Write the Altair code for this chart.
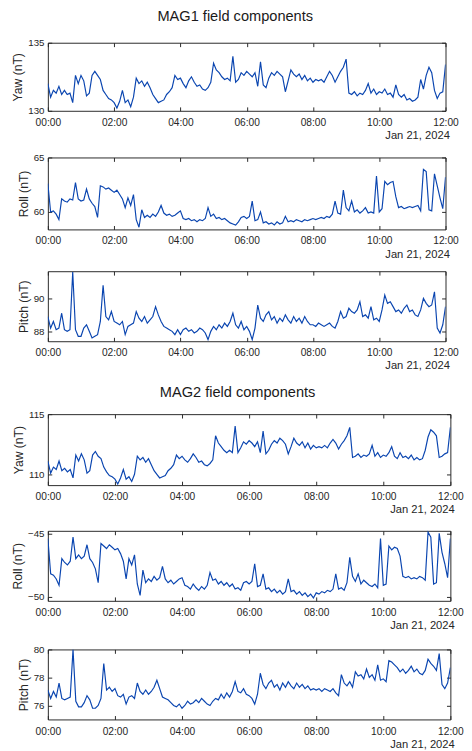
import altair as alt
import pandas as pd

# sample times: every 5 minutes, 00:00 .. 12:00 on Jan 21, 2024
minutes = list(range(0, 725, 5))
times = [(pd.Timestamp("2024-01-21") + pd.Timedelta(minutes=m)).strftime("%Y-%m-%dT%H:%M:%S") for m in minutes]

mag1_yaw = [
    132.0, 131.0, 131.5, 131.3, 131.8, 131.2, 131.5, 131.2, 131.3, 130.6, 132.6, 132.0,
    132.6, 132.2, 131.1, 131.3, 132.6, 132.9, 132.6, 132.3, 131.5, 131.2, 130.9, 130.8,
    130.6, 130.2, 130.7, 131.5, 130.6, 130.8, 130.3, 131.0, 132.4, 132.0, 132.2, 131.8,
    132.1, 131.7, 131.2, 130.9, 130.6, 130.7, 130.8, 131.2, 131.4, 131.7, 132.6, 132.3,
    132.4, 132.0, 131.7, 132.2, 132.5, 132.1, 131.8, 131.9, 131.6, 131.5, 131.7, 132.1,
    133.5, 133.0, 132.8, 132.5, 132.3, 132.4, 132.2, 134.0, 132.1, 132.3, 132.8, 132.6,
    132.9, 132.7, 132.5, 132.8, 131.8, 133.6, 131.9, 131.7, 132.4, 132.8, 132.6, 132.9,
    132.7, 132.5, 131.4, 132.2, 133.0, 132.7, 132.5, 132.7, 132.3, 132.6, 132.2, 132.4,
    132.1, 132.3, 132.2, 132.3, 132.1, 132.5, 132.9, 132.6, 132.1, 132.5, 132.9, 133.2,
    133.8, 131.3, 131.2, 131.4, 131.1, 131.3, 131.2, 131.5, 132.0, 131.3, 131.6, 131.2,
    131.4, 131.3, 131.6, 131.2, 131.3, 131.0, 131.9, 131.2, 131.0, 131.2, 130.8, 130.9,
    130.7, 130.8, 131.0, 132.3, 131.6, 132.6, 133.2, 132.8, 131.5, 130.9, 131.3, 131.4,
    133.4,
]
mag1_roll = [
    62.6, 60.0, 60.1, 59.8, 59.3, 61.2, 61.0, 60.9, 61.2, 61.1, 62.7, 61.2,
    61.0, 61.1, 62.1, 61.2, 60.8, 60.5, 59.5, 62.4, 62.3, 62.1, 62.2, 62.0,
    61.8, 62.0, 61.6, 61.2, 60.4, 61.3, 60.6, 61.6, 59.3, 58.6, 60.2, 59.5,
    59.7, 59.5, 59.8, 59.6, 60.0, 60.6, 59.9, 59.7, 59.8, 59.6, 59.7, 59.9,
    60.1, 59.4, 59.3, 59.4, 59.2, 59.3, 59.1, 59.3, 59.2, 59.4, 60.4, 59.6,
    59.8, 59.4, 59.5, 59.3, 59.4, 59.2, 59.0, 58.9, 58.8, 59.1, 59.5, 59.6,
    59.4, 59.6, 61.0, 59.2, 59.3, 60.0, 59.0, 59.1, 58.9, 59.0, 58.8, 59.1,
    58.9, 59.0, 59.6, 59.1, 59.2, 59.1, 59.3, 59.2, 59.1, 59.3, 59.2, 59.3,
    59.4, 59.3, 59.4, 59.5, 59.4, 59.6, 59.5, 59.8, 61.0, 59.9, 59.8, 62.0,
    60.4, 60.1, 61.0, 60.0, 60.2, 59.9, 60.1, 60.4, 59.9, 60.0, 59.9, 63.3,
    60.0, 60.3, 62.8, 62.5, 62.7, 62.8, 61.4, 60.4, 60.5, 60.3, 60.4, 60.5,
    60.4, 60.5, 60.6, 60.1, 63.9, 63.7, 60.2, 60.1, 63.5, 62.4, 61.3, 60.3,
    63.2,
]
mag1_pitch = [
    88.9, 88.2, 88.6, 88.1, 88.2, 89.1, 88.1, 88.0, 88.1, 91.6, 88.1, 87.7,
    87.7, 88.2, 88.4, 88.0, 87.6, 87.7, 87.8, 88.6, 90.8, 88.9, 88.7, 89.2,
    88.6, 88.5, 88.4, 88.6, 87.8, 88.3, 88.4, 88.5, 89.2, 88.8, 88.6, 88.9,
    88.5, 88.7, 88.9, 89.5, 89.0, 88.6, 88.3, 88.2, 88.1, 88.0, 87.8, 88.1,
    87.8, 88.1, 88.2, 88.0, 88.1, 87.9, 88.0, 88.2, 88.1, 87.9, 87.5, 88.0,
    88.3, 88.1, 88.4, 88.2, 88.5, 88.3, 88.6, 89.1, 88.4, 88.2, 88.6, 88.1,
    88.3, 88.0, 87.5, 88.2, 89.6, 88.8, 88.6, 89.0, 89.2, 88.7, 88.9, 88.5,
    88.8, 88.6, 89.0, 88.7, 88.5, 88.9, 88.6, 88.8, 88.5, 88.9, 88.6, 88.4,
    88.4, 88.3, 88.5, 88.4, 88.3, 88.4, 88.5, 88.3, 88.2, 88.6, 89.2, 88.8,
    88.9, 89.4, 89.2, 89.1, 89.3, 89.8, 88.9, 89.0, 88.8, 89.5, 88.7, 88.8,
    88.6, 89.3, 90.2, 89.7, 89.8, 89.5, 89.2, 89.3, 89.1, 89.4, 89.6, 89.2,
    89.3, 89.0, 88.9, 89.3, 90.0, 89.7, 89.5, 89.6, 90.4, 88.2, 87.9, 88.4,
    89.5,
]
mag2_yaw = [
    111.1, 110.1, 110.6, 110.4, 111.1, 110.3, 110.5, 110.2, 110.4, 109.7, 111.6, 111.1,
    111.7, 111.2, 110.1, 110.3, 111.6, 111.9, 111.5, 111.3, 110.6, 110.2, 109.9, 109.8,
    109.6, 109.2, 109.7, 110.4, 109.6, 109.8, 109.4, 110.0, 111.5, 111.2, 111.4, 111.0,
    111.3, 110.8, 110.3, 110.0, 109.7, 109.8, 109.9, 110.3, 110.5, 110.8, 111.6, 111.3,
    111.5, 111.2, 111.0, 111.3, 111.7, 111.4, 111.0, 111.1, 110.8, 110.7, 110.9, 111.2,
    113.2, 112.6, 112.3, 112.0, 111.8, 112.0, 111.8, 114.0, 111.8, 112.2, 112.7, 112.5,
    112.8, 112.6, 112.3, 112.7, 111.8, 113.6, 111.7, 112.0, 112.5, 112.8, 112.6, 113.0,
    112.8, 112.5, 111.7, 112.3, 113.0, 112.6, 112.4, 112.7, 112.2, 112.6, 112.1, 112.4,
    112.2, 112.3, 112.2, 112.4, 112.2, 112.6, 112.9, 112.6, 112.1, 112.5, 112.8, 113.2,
    113.9, 111.4, 111.5, 111.7, 111.4, 111.6, 111.5, 111.7, 112.4, 111.5, 111.8, 111.4,
    111.6, 111.5, 111.8, 112.3, 111.5, 111.3, 111.8, 111.4, 111.5, 111.3, 111.6, 111.2,
    111.4, 111.2, 111.3, 112.0, 113.1, 113.7, 113.5, 113.2, 111.4, 111.5, 111.7, 111.8,
    113.9,
]
mag2_roll = [
    -45.4, -48.2, -48.3, -48.6, -49.1, -47.0, -47.3, -47.5, -47.2, -45.3, -47.0, -46.7,
    -47.0, -46.8, -45.9, -47.0, -47.3, -47.8, -48.9, -45.8, -46.0, -46.2, -45.9, -46.1,
    -46.3, -46.2, -46.6, -47.2, -48.6, -47.0, -47.5, -46.7, -49.0, -49.9, -47.9, -48.9,
    -48.6, -48.8, -48.4, -48.7, -48.5, -47.6, -48.6, -48.9, -48.7, -49.0, -48.8, -48.6,
    -48.5, -49.1, -49.2, -49.4, -49.0, -49.3, -49.5, -49.2, -49.4, -49.1, -48.1, -48.7,
    -48.6, -49.0, -48.8, -49.1, -48.9, -49.2, -49.0, -49.4, -49.3, -49.5, -48.9, -48.8,
    -49.0, -48.8, -47.4, -49.2, -49.1, -48.2, -49.4, -49.3, -49.6, -49.4, -49.7, -49.5,
    -49.8, -49.6, -48.6, -49.6, -49.5, -49.8, -49.6, -49.9, -49.7, -50.0, -49.8, -50.1,
    -49.7, -49.8, -49.6, -49.7, -49.5, -49.6, -49.4, -48.2, -49.4, -49.3, -49.5, -48.9,
    -46.9, -48.4, -48.8, -48.2, -49.0, -48.7, -48.9, -49.1, -49.2, -49.0, -49.3, -45.4,
    -49.1, -49.0, -46.0, -46.3, -46.1, -46.2, -46.8, -48.4, -48.5, -48.4, -48.6, -48.5,
    -48.6, -48.4, -48.5, -48.7, -44.9, -45.3, -49.0, -48.9, -45.0, -46.5, -47.4, -48.5,
    -45.4,
]
mag2_pitch = [
    77.1, 76.5, 77.0, 76.6, 77.6, 76.5, 76.4, 76.5, 76.6, 80.0, 76.3, 75.9,
    75.9, 76.2, 76.7, 76.4, 75.8, 75.8, 76.0, 76.5, 79.0, 77.1, 77.3, 77.0,
    77.2, 76.7, 76.6, 76.8, 76.1, 76.6, 76.7, 76.5, 77.6, 77.0, 76.8, 77.1,
    76.8, 77.0, 77.3, 77.8, 77.2, 76.6, 76.5, 76.4, 76.2, 76.0, 75.9, 76.1,
    75.8, 76.0, 76.3, 76.1, 76.2, 76.4, 76.2, 76.5, 76.3, 76.1, 76.0, 76.3,
    76.5, 76.4, 76.8, 76.5, 76.9, 76.6, 77.0, 77.7, 77.0, 76.9, 77.2, 76.8,
    76.7, 76.5, 76.1, 76.8, 78.3, 77.5, 77.2, 77.6, 77.8, 77.3, 77.5, 77.1,
    77.6, 77.3, 77.7, 77.4, 77.2, 77.6, 77.3, 77.5, 77.2, 77.4, 77.1, 77.2,
    77.1, 77.2, 77.0, 77.2, 77.1, 77.0, 77.2, 76.9, 76.7, 78.2, 77.6, 77.4,
    77.7, 77.3, 78.4, 78.1, 78.2, 77.9, 78.6, 78.0, 78.2, 77.8, 78.9, 77.8,
    77.9, 77.7, 79.2, 79.1, 78.9, 78.7, 78.4, 78.6, 78.3, 78.5, 78.8, 78.4,
    78.6, 78.3, 78.2, 78.5, 79.3, 79.0, 78.8, 78.5, 79.7, 77.5, 77.2, 77.6,
    78.7,
]

x_tick_hours = [0, 2, 4, 6, 8, 10, 12]
date_label = "Jan 21, 2024"

LINE = "#0a45b0"
AXIS = "#262626"
FONT = "Liberation Sans"

x_start = alt.DateTime(year=2024, month=1, date=21, hours=0)
x_end = alt.DateTime(year=2024, month=1, date=21, hours=12)
x_ticks = [alt.DateTime(year=2024, month=1, date=21, hours=h) for h in x_tick_hours]


def panel(values, ylabel, ydomain, yticks, width, height=72):
    df = pd.DataFrame({"t": times, "v": values})
    xs = alt.Scale(domain=[x_start, x_end], nice=False)
    ys = alt.Scale(domain=ydomain, nice=False, zero=False)
    main = alt.Chart(df).mark_line(color=LINE, strokeWidth=1.2, clip=True).encode(
        x=alt.X("t:T", scale=xs, axis=alt.Axis(
            orient="bottom", values=x_ticks, format="%H:%M", labelFlush=False,
            ticks=False, domain=False, grid=False, labelPadding=7, minExtent=0,
            labelFontSize=10.5,
            title=date_label, titleAnchor="end", titleAlign="right", titleX=width + 4,
            titlePadding=2, titleFontWeight="normal", titleFontSize=11.5)),
        y=alt.Y("v:Q", scale=ys, axis=alt.Axis(
            orient="left", values=yticks, ticks=False, domain=False, grid=False,
            labelPadding=4, minExtent=0, labelFontSize=10, title=ylabel,
            titlePadding=3, titleFontWeight="normal", titleFontSize=12.5)),
    )
    tick_bl = alt.Chart(df).mark_line(opacity=0).encode(
        x=alt.X("t:T", scale=xs, axis=alt.Axis(
            orient="bottom", values=x_ticks, labels=False, title=None, domain=False,
            grid=False, ticks=True, tickSize=4, offset=-4, minExtent=0)),
        y=alt.Y("v:Q", scale=ys, axis=alt.Axis(
            orient="left", values=yticks, labels=False, title=None, domain=False,
            grid=False, ticks=True, tickSize=4, offset=-4, minExtent=0)),
    )
    tick_tr = alt.Chart(df).mark_line(opacity=0).encode(
        x=alt.X("t:T", scale=xs, axis=alt.Axis(
            orient="top", values=x_ticks, labels=False, title=None, domain=False,
            grid=False, ticks=True, tickSize=4, offset=-4, minExtent=0)),
        y=alt.Y("v:Q", scale=ys, axis=alt.Axis(
            orient="right", values=yticks, labels=False, title=None, domain=False,
            grid=False, ticks=True, tickSize=4, offset=-4, minExtent=0)),
    )
    return alt.layer(main, tick_bl, tick_tr).resolve_axis(
        x="independent", y="independent").properties(width=width, height=height)


g1 = alt.vconcat(
    panel(mag1_yaw, "Yaw (nT)", [130, 135], [130, 135], 409, 70),
    panel(mag1_roll, "Roll (nT)", [58.4, 65], [60, 65], 409, 74),
    panel(mag1_pitch, "Pitch (nT)", [87.4, 91.65], [88, 90], 409, 72),
    spacing=10,
).properties(title=alt.TitleParams("MAG1 field components", anchor="middle", offset=14))

g2 = alt.vconcat(
    panel(mag2_yaw, "Yaw (nT)", [109.1, 115], [110, 115], 414, 73),
    panel(mag2_roll, "Roll (nT)", [-50.33, -44.8], [-50, -45], 414, 72),
    panel(mag2_pitch, "Pitch (nT)", [75, 80], [76, 78, 80], 414, 72),
    spacing=12,
).properties(title=alt.TitleParams("MAG2 field components", anchor="middle", offset=9))

chart = alt.vconcat(g1, g2, spacing=13).properties(
    padding={"left": 3, "top": -10, "right": 0, "bottom": 0}
).configure_view(
    stroke=AXIS, strokeWidth=1
).configure_axis(
    labelFont=FONT, titleFont=FONT, labelColor=AXIS, titleColor=AXIS,
    tickColor=AXIS, tickWidth=1,
).configure_title(
    font=FONT, fontSize=15, fontWeight="normal", color="#1a1a1a"
)

chart.save("out.html", embed_options={"renderer": "svg", "actions": False})
